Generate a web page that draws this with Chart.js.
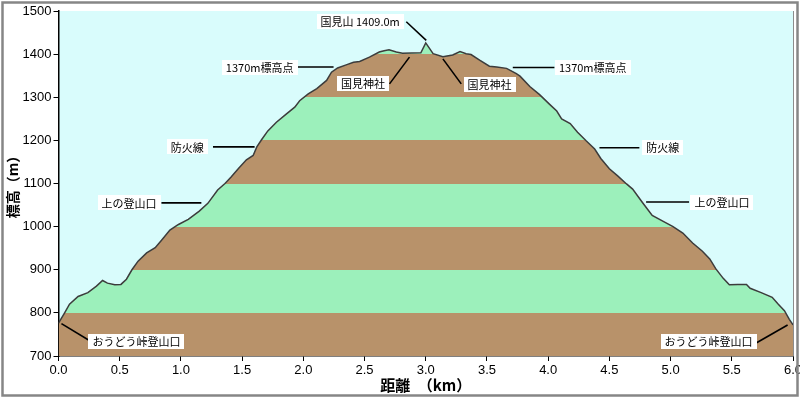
<!DOCTYPE html>
<html>
<head>
<meta charset="utf-8">
<script src="https://cdn.jsdelivr.net/npm/chart.js@4/dist/chart.umd.min.js"></script>
<style>
  html, body { margin: 0; padding: 0; background: #ffffff; }
  #c { display: block; }
</style>
</head>
<body>
<canvas id="c" width="800" height="398"></canvas>
<script>
// ---- data (distance km, elevation m) ----
const distKm = [0.00,0.05,0.09,0.16,0.24,0.31,0.36,0.40,0.46,0.51,0.555,0.60,0.65,0.72,0.79,0.84,0.91,0.98,1.06,1.15,1.22,1.30,1.36,1.41,1.47,1.535,1.59,1.62,1.66,1.71,1.78,1.86,1.93,1.97,2.04,2.11,2.19,2.23,2.28,2.35,2.41,2.46,2.54,2.62,2.66,2.70,2.76,2.81,2.96,3.00,3.06,3.14,3.22,3.28,3.33,3.37,3.44,3.52,3.58,3.66,3.74,3.77,3.85,3.93,4.01,4.07,4.11,4.18,4.24,4.31,4.38,4.43,4.50,4.57,4.64,4.69,4.77,4.85,4.94,5.02,5.10,5.18,5.26,5.32,5.37,5.43,5.48,5.55,5.62,5.65,5.74,5.83,5.88,5.93,5.97,6.00];
const elevM  = [776,800,820,838,847,862,875,869,865,866,878,900,920,939,951,968,992,1005,1017,1036,1054,1085,1100,1115,1135,1155,1165,1185,1202,1222,1242,1261,1277,1292,1308,1320,1339,1358,1368,1375,1381,1383,1393,1405,1408,1410,1405,1402,1403,1426,1401,1394,1398,1406,1401,1399,1386,1372,1370,1367,1355,1349,1325,1306,1284,1268,1250,1239,1219,1199,1180,1158,1134,1117,1099,1087,1056,1026,1012,1000,985,962,943,925,902,880,865,866,866,857,847,836,820,805,785,772];
const xTicks = [0,0.5,1,1.5,2,2.5,3,3.5,4,4.5,5,5.5,6];
const yTicks = [700,800,900,1000,1100,1200,1300,1400,1500];
const bandBreaks = [700,800,900,1000,1100,1200,1300,1400,1500];
const bandColors = ['#b8926a','#9cf0bb','#b8926a','#9cf0bb','#b8926a','#9cf0bb','#b8926a','#9cf0bb'];

// annotations: text, label centre (km,m), leader line from/to (km,m)
const annoText  = ['国見山 1409.0m','1370m標高点','1370m標高点','国見神社','国見神社','防火線','防火線','上の登山口','上の登山口','おうどう峠登山口','おうどう峠登山口'];
const annoLabel = [[2.464,1476],[1.643,1370],[4.364,1369],[2.487,1333],[3.521,1330],[1.051,1185],[4.936,1183],[0.576,1055],[5.419,1057],[0.637,733],[5.310,734]];
const annoFrom  = [[2.841,1475],[1.929,1370],[3.711,1369],[2.704,1331],[3.140,1389],[1.262,1185],[4.419,1183],[0.841,1055],[4.800,1057],[0.024,775],[5.692,729]];
const annoTo    = [[3.004,1432],[2.247,1370],[4.051,1369],[2.867,1393],[3.290,1331],[1.602,1185],[4.745,1183],[1.167,1055],[5.151,1057],[0.269,733],[5.956,772]];

const points = distKm.map((d, i) => ({ x: d, y: elevM[i] }));

const bgPlugin = {
  id: 'bg',
  beforeDraw(chart) {
    const { ctx, chartArea: a } = chart;
    ctx.save();
    ctx.fillStyle = '#ffffff';
    ctx.fillRect(0, 0, chart.width, chart.height);
    ctx.fillStyle = '#d9fcfc';
    ctx.fillRect(a.left, a.top, a.right - a.left, a.bottom - a.top);
    ctx.restore();
  },
  afterDraw(chart) {
    const { ctx, chartArea: a } = chart;
    ctx.save();
    ctx.strokeStyle = '#8c8c8c';
    ctx.lineWidth = 1;
    ctx.beginPath();
    ctx.moveTo(a.right + 0.5, a.top);
    ctx.lineTo(a.right + 0.5, a.bottom);
    ctx.stroke();
    ctx.strokeStyle = '#868686';
    ctx.lineWidth = 2.5;
    ctx.strokeRect(2.5, 2.5, 795, 393);
    ctx.restore();
  }
};

const annoPlugin = {
  id: 'anno',
  afterDatasetsDraw(chart) {
    const { ctx, scales: { x, y } } = chart;
    ctx.save();
    ctx.font = '11px "Noto Sans CJK JP"';
    ctx.textAlign = 'center';
    ctx.textBaseline = 'middle';
    annoText.forEach((t, i) => {
      ctx.strokeStyle = '#000000';
      ctx.lineWidth = 1.6;
      ctx.beginPath();
      ctx.moveTo(x.getPixelForValue(annoFrom[i][0]), y.getPixelForValue(annoFrom[i][1]));
      ctx.lineTo(x.getPixelForValue(annoTo[i][0]), y.getPixelForValue(annoTo[i][1]));
      ctx.stroke();
      const cx = x.getPixelForValue(annoLabel[i][0]);
      const cy = y.getPixelForValue(annoLabel[i][1]);
      const w = ctx.measureText(t).width + 8;
      const h = 15;
      ctx.fillStyle = '#ffffff';
      ctx.fillRect(Math.round(cx - w / 2), Math.round(cy - h / 2), Math.round(w), h);
      ctx.fillStyle = '#000000';
      ctx.fillText(t, cx, cy + 0.5);
    });
    ctx.restore();
  }
};

const tickFont = { family: '"Liberation Sans", Arial, sans-serif', size: 13 };

new Chart(document.getElementById('c'), {
  type: 'line',
  data: {
    datasets: [{
      data: points,
      borderColor: '#3c3c3c',
      borderWidth: 1.5,
      pointRadius: 0,
      tension: 0,
      fill: 'start',
      backgroundColor: (c) => {
        const ch = c.chart;
        if (!ch.chartArea) return '#b8926a';
        const ys = ch.scales.y;
        const y0 = ys.getPixelForValue(bandBreaks[0]);
        const y1 = ys.getPixelForValue(bandBreaks[bandBreaks.length - 1]);
        const g = ch.ctx.createLinearGradient(0, y0, 0, y1);
        const span = bandBreaks[bandBreaks.length - 1] - bandBreaks[0];
        for (let i = 0; i < bandColors.length; i++) {
          const f0 = (bandBreaks[i] - bandBreaks[0]) / span;
          const f1 = (bandBreaks[i + 1] - bandBreaks[0]) / span;
          g.addColorStop(f0, bandColors[i]);
          g.addColorStop(Math.max(f0, f1 - 0.0001), bandColors[i]);
        }
        return g;
      }
    }]
  },
  options: {
    responsive: false,
    animation: false,
    devicePixelRatio: 1,
    layout: { padding: { left: 0, top: 11, right: 7, bottom: 0 } },
    plugins: { legend: { display: false }, tooltip: { enabled: false } },
    scales: {
      x: {
        type: 'linear',
        min: 0, max: 6,
        afterBuildTicks: (s) => { s.ticks = xTicks.map(v => ({ value: v })); },
        afterFit: (s) => { s.height = 42; s.paddingLeft = 0; s.paddingRight = 0; },
        ticks: { color: '#000', font: tickFont, padding: 2, maxRotation: 0, autoSkip: false,
                 callback: (v) => Number(v).toFixed(1) },
        grid: { drawOnChartArea: false, color: '#000', tickLength: 5, tickWidth: 1 },
        border: { color: '#000', width: 1.5 },
        title: { display: true, text: '距離　（km）', color: '#000',
                 font: { family: '"Noto Sans CJK JP"', size: 15, weight: 'bold' },
                 padding: { top: 0, bottom: 4 } }
      },
      y: {
        min: 700, max: 1500,
        afterBuildTicks: (s) => { s.ticks = yTicks.map(v => ({ value: v })); },
        afterFit: (s) => { s.width = 58.5; s.paddingTop = 0; s.paddingBottom = 0; },
        ticks: { color: '#000', font: tickFont, padding: 2, callback: (v) => String(v) },
        grid: { drawOnChartArea: false, color: '#000', tickLength: 5, tickWidth: 1 },
        border: { color: '#000', width: 1.5 },
        title: { display: true, text: '標高（m）', color: '#000',
                 font: { family: '"Noto Sans CJK JP"', size: 14, weight: 'bold' },
                 padding: { top: 4, bottom: 0 } }
      }
    }
  },
  plugins: [bgPlugin, annoPlugin]
});
</script>
</body>
</html>
